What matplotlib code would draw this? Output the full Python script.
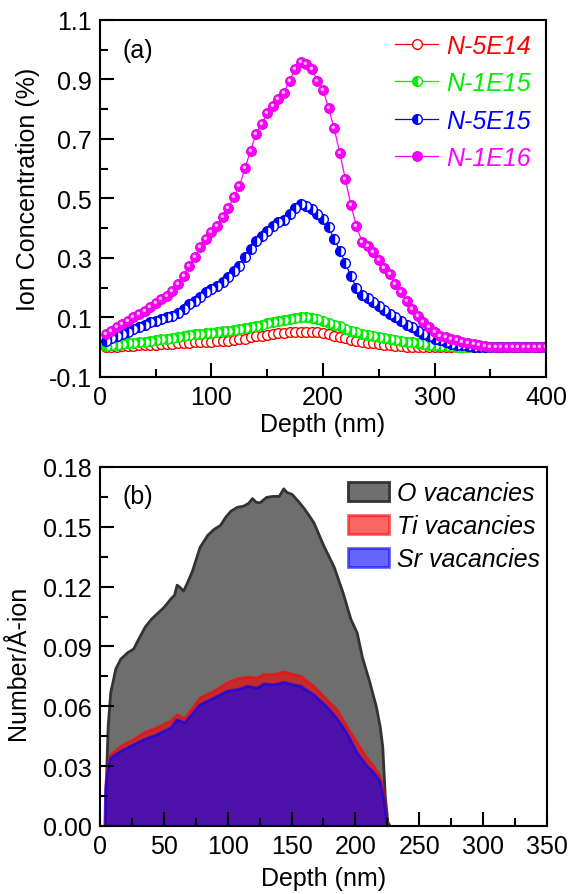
import numpy as np
import matplotlib
matplotlib.use('Agg')
import matplotlib.pyplot as plt
from matplotlib.markers import MarkerStyle
from matplotlib.transforms import Affine2D

plt.rcParams['font.family'] = ['Liberation Sans', 'DejaVu Sans']
plt.rcParams['font.size'] = 18

# ---- panel (a): ion concentration profiles ----
depth_a = np.arange(5, 401, 5)

n5e14 = [0.000, 0.001, 0.002, 0.003, 0.004, 0.005, 0.006, 0.007, 0.008, 0.009,
         0.010, 0.011, 0.012, 0.013, 0.014, 0.015, 0.016, 0.017, 0.018, 0.019,
         0.020, 0.021, 0.022, 0.024, 0.026, 0.029, 0.033, 0.036, 0.039, 0.042,
         0.045, 0.047, 0.049, 0.050, 0.051, 0.052, 0.052, 0.051, 0.050, 0.047,
         0.043, 0.039, 0.035, 0.030, 0.025, 0.021, 0.018, 0.015, 0.013, 0.010,
         0.008, 0.006, 0.004, 0.003] + [0.002] * 26

n1e15 = [0.005, 0.007, 0.009, 0.011, 0.013, 0.015, 0.017, 0.019, 0.021, 0.023,
         0.026, 0.029, 0.032, 0.035, 0.038, 0.041, 0.043, 0.045, 0.047, 0.049,
         0.051, 0.053, 0.055, 0.057, 0.060, 0.063, 0.067, 0.072, 0.076, 0.081,
         0.085, 0.089, 0.092, 0.095, 0.098, 0.100, 0.100, 0.098, 0.094, 0.089,
         0.083, 0.076, 0.070, 0.062, 0.055, 0.050, 0.046, 0.042, 0.039, 0.035,
         0.032, 0.028, 0.025, 0.022, 0.019, 0.016, 0.013, 0.011, 0.009, 0.007,
         0.005, 0.004, 0.003] + [0.002] * 17

n5e15 = [0.022, 0.030, 0.039, 0.045, 0.052, 0.061, 0.067, 0.075, 0.084, 0.089,
         0.095, 0.100, 0.106, 0.115, 0.129, 0.145, 0.156, 0.168, 0.185, 0.196,
         0.207, 0.220, 0.237, 0.256, 0.274, 0.302, 0.330, 0.358, 0.375, 0.392,
         0.409, 0.420, 0.428, 0.448, 0.467, 0.481, 0.476, 0.465, 0.448, 0.431,
         0.403, 0.364, 0.325, 0.283, 0.238, 0.200, 0.176, 0.165, 0.153, 0.140,
         0.126, 0.112, 0.101, 0.089, 0.075, 0.067, 0.056, 0.045, 0.037, 0.028,
         0.023, 0.017, 0.011, 0.008, 0.006, 0.004] + [0.002] * 14

n1e16 = [0.045, 0.056, 0.067, 0.078, 0.089, 0.100, 0.112, 0.123, 0.136, 0.149,
         0.162, 0.173, 0.190, 0.213, 0.240, 0.274, 0.302, 0.336, 0.364, 0.386,
         0.408, 0.437, 0.467, 0.504, 0.541, 0.601, 0.661, 0.717, 0.750, 0.786,
         0.812, 0.834, 0.855, 0.896, 0.935, 0.960, 0.952, 0.935, 0.896, 0.865,
         0.803, 0.736, 0.653, 0.566, 0.478, 0.406, 0.355, 0.339, 0.319, 0.294,
         0.265, 0.246, 0.213, 0.187, 0.156, 0.129, 0.106, 0.086, 0.067, 0.050,
         0.039, 0.035, 0.028, 0.023, 0.017, 0.014, 0.010, 0.006, 0.004] + [0.002] * 11

# ---- panel (b): vacancy profiles ----
depth_o = [4, 5, 6, 8, 12, 16, 21, 26, 30, 35, 40, 45, 50, 55, 58, 60, 62, 65, 68,
           72, 78, 84, 89, 94, 98, 102, 107, 112, 116, 119, 122, 125, 130, 135,
           140, 143.5, 146, 150, 155, 160, 167, 175, 183, 190, 196, 201, 205, 211,
           216, 219, 221, 223, 225, 227, 350]
o_vac = [0, 0.03, 0.05, 0.067, 0.079, 0.084, 0.087, 0.089, 0.094, 0.100, 0.104,
         0.107, 0.110, 0.114, 0.116, 0.121, 0.120, 0.118, 0.122, 0.128, 0.140,
         0.146, 0.149, 0.151, 0.155, 0.158, 0.160, 0.1606, 0.162, 0.1644, 0.1625,
         0.1623, 0.165, 0.1655, 0.1655, 0.1693, 0.1675, 0.1665, 0.163, 0.159,
         0.1524, 0.1405, 0.130, 0.117, 0.104, 0.097, 0.085, 0.072, 0.060, 0.050,
         0.040, 0.015, 0.002, 0, 0]

depth_ts = [3.5, 4, 5, 8, 16, 26, 34, 44, 55, 60, 66, 78, 89, 99, 107, 115, 123,
            128, 136, 144, 151, 157, 167, 177, 185, 193, 201, 208, 214, 219, 222,
            224.5, 226, 350]
ti_vac = [0, 0.02, 0.027, 0.036, 0.0402, 0.0436, 0.047, 0.0495, 0.0528, 0.0561,
          0.0541, 0.0645, 0.0678, 0.072, 0.074, 0.075, 0.0745, 0.0762, 0.0762,
          0.0775, 0.0762, 0.0753, 0.0703, 0.0637, 0.0587, 0.0503, 0.042, 0.035,
          0.0302, 0.0252, 0.017, 0.002, 0, 0]
sr_vac = [0, 0.018, 0.025, 0.0344, 0.0378, 0.0411, 0.0436, 0.046, 0.0494, 0.0536,
          0.052, 0.0611, 0.0645, 0.0678, 0.0686, 0.0703, 0.0695, 0.0715, 0.0711,
          0.0723, 0.0711, 0.0703, 0.0661, 0.0603, 0.0544, 0.0469, 0.0369, 0.031,
          0.027, 0.0227, 0.0135, 0.001, 0, 0]

fig = plt.figure(figsize=(5.8, 8.95), dpi=100)
ax1 = fig.add_axes([0.1724, 0.5777, 0.769, 0.3989])
ax2 = fig.add_axes([0.1724, 0.0760, 0.7707, 0.4011])

# panel (a)
ms = 7
ax1.plot(depth_a, n5e14, '-o', color='#ff0000', lw=0.9, ms=ms, mfc='white',
         mec='#ff0000', mew=1, label='N-5E14')
ax1.plot(depth_a, n1e15, '-o', color='#00ee00', lw=0.9, ms=ms, fillstyle='left',
         mfc='#00ee00', mfcalt='white', mec='#00ee00', mew=1, label='N-1E15')
ax1.plot(depth_a, n5e15, '-o', color='#0000ff', lw=0.9, ms=ms, fillstyle='left',
         mfc='#0000ff', mfcalt='white', mec='#0000ff', mew=1, label='N-5E15')
ax1.plot(depth_a, n1e16, '-o', color='#ff00ff', lw=0.9, ms=ms, mfc='#ff00ff',
         mec='#e000e0', mew=0.8, label='N-1E16')
# small highlight to mimic the shaded balls
hl = MarkerStyle('o', transform=Affine2D().scale(0.35).translate(-0.12, 0.12))
ax1.plot(depth_a, n1e16, ls='none', marker=hl, ms=ms, mfc='#ffc8ff', mec='none')

ax1.set_xlim(0, 400)
ax1.set_ylim(-0.1, 1.1)
ax1.set_xticks(np.arange(0, 401, 100))
ax1.set_xticks(np.arange(0, 401, 50), minor=True)
ax1.set_yticks(np.arange(-0.1, 1.11, 0.2))
ax1.set_yticks(np.arange(-0.1, 1.11, 0.1), minor=True)
ax1.set_yticklabels(['-0.1', '0.1', '0.3', '0.5', '0.7', '0.9', '1.1'])
ax1.set_xlabel('Depth (nm)')
ax1.set_ylabel('Ion Concentration (%)')
ax1.xaxis.set_label_coords(0.5, -0.098)
ax1.yaxis.set_label_coords(-0.135, 0.527)
ax1.text(0.05, 0.915, '(a)', transform=ax1.transAxes, va='center', ha='left')

leg1 = ax1.legend(loc='upper left', bbox_to_anchor=(0.662, 0.962), frameon=False,
                  handlelength=1.7, handletextpad=0.35, labelspacing=0.54,
                  borderpad=0, borderaxespad=0, prop={'style': 'italic', 'size': 18})
for txt, c in zip(leg1.get_texts(), ['#ff0000', '#00ee00', '#0000ff', '#ff00ff']):
    txt.set_color(c)

# panel (b)
ax2.fill_between(depth_o, o_vac, color='#6e6e6e', ec='#333333', lw=2,
                 label='O vacancies')
ax2.fill_between(depth_ts, ti_vac, color='#ff0000', alpha=0.6, ec='#ff0000', lw=2,
                 label='Ti vacancies')
ax2.fill_between(depth_ts, sr_vac, color='#0000ff', alpha=0.6, ec='#0000ff', lw=2,
                 label='Sr vacancies')

ax2.set_xlim(0, 350)
ax2.set_ylim(0, 0.18)
ax2.set_xticks(np.arange(0, 351, 50))
ax2.set_xticks(np.arange(0, 351, 25), minor=True)
ax2.set_yticks(np.arange(0, 0.181, 0.03))
ax2.set_yticks(np.arange(0, 0.181, 0.015), minor=True)
ax2.set_yticklabels(['0.00', '0.03', '0.06', '0.09', '0.12', '0.15', '0.18'])
ax2.set_xlabel('Depth (nm)')
ax2.set_ylabel('Number/Å-ion')
ax2.xaxis.set_label_coords(0.5, -0.111)
ax2.yaxis.set_label_coords(-0.157, 0.457)
ax2.text(0.05, 0.92, '(b)', transform=ax2.transAxes, va='center', ha='left')

ax2.legend(loc='upper left', bbox_to_anchor=(0.555, 0.961), frameon=False,
           handlelength=1.64, handleheight=0.8, handletextpad=0.32,
           labelspacing=0.36, borderpad=0, borderaxespad=0,
           prop={'style': 'italic', 'size': 18})

for ax in (ax1, ax2):
    for s in ax.spines.values():
        s.set_linewidth(1.5)
    ax.tick_params(which='major', direction='in', length=10, width=1.5,
                   labelsize=18, pad=6)
    ax.tick_params(which='minor', direction='in', length=5.5, width=1.5)
    ax.tick_params(top=False, right=False, which='both')

fig.savefig('out.png', dpi=100)
